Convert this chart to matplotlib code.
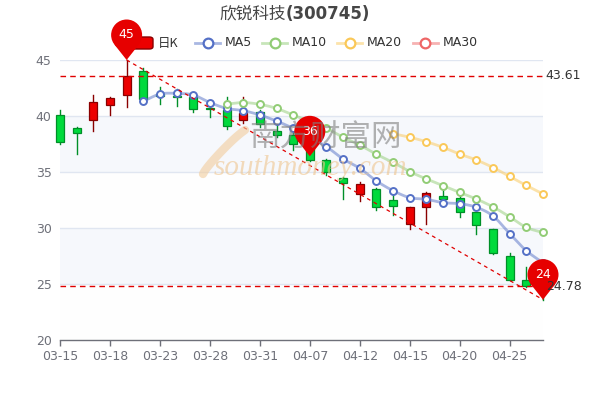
import numpy as np
import matplotlib
matplotlib.use("Agg")
import matplotlib.pyplot as plt
from matplotlib.patches import Rectangle, Circle, Polygon, FancyBboxPatch
from matplotlib.lines import Line2D
from matplotlib import transforms

plt.rcParams['font.family'] = ['DejaVu Sans', 'Noto Sans CJK SC']

# ---------------- data ----------------
dates = ['03-15', '03-16', '03-17', '03-18', '03-21', '03-22', '03-23', '03-24', '03-25', '03-28',
         '03-29', '03-30', '03-31', '04-01', '04-06', '04-07', '04-08', '04-11', '04-12', '04-13',
         '04-14', '04-15', '04-18', '04-19', '04-20', '04-21', '04-22', '04-25', '04-26', '04-27']
opens = [40.1, 38.9, 39.6, 41.0, 41.9, 44.0, 41.95, 41.8, 41.7, 40.7,
         40.5, 39.6, 40.4, 38.7, 38.3, 37.1, 36.1, 34.5, 33.0, 33.5,
         32.5, 30.4, 31.9, 32.9, 32.7, 31.4, 29.9, 27.5, 25.4, 25.3]
closes = [37.7, 38.5, 41.25, 41.6, 43.61, 41.55, 41.8, 41.7, 40.6, 40.6,
          39.1, 40.3, 39.3, 38.3, 37.5, 36.1, 35.0, 34.0, 33.9, 31.85,
          31.95, 31.85, 33.15, 32.55, 31.4, 30.25, 27.75, 25.4, 24.78, 24.95]
highs = [40.5, 39.05, 41.9, 41.7, 45.0, 44.3, 42.6, 42.4, 41.9, 41.1,
         41.7, 41.7, 40.5, 39.4, 39.1, 37.3, 36.2, 34.55, 34.1, 33.6,
         33.0, 31.9, 33.2, 33.55, 33.35, 31.45, 29.9, 27.8, 26.5, 25.6]
lows = [37.5, 36.6, 38.7, 40.1, 40.8, 41.4, 41.1, 40.9, 40.4, 39.9,
        38.8, 39.4, 39.0, 38.15, 37.0, 36.0, 34.7, 32.6, 32.4, 31.6,
        31.2, 29.9, 30.4, 32.5, 31.0, 29.5, 27.7, 25.35, 24.7, 23.6]

nan = np.nan
ma5 = [nan] * 5 + [41.3, 41.96, 42.02, 41.88, 41.2, 40.68, 40.48, 40.09, 39.55, 38.9,
                   38.1, 37.26, 36.16, 35.33, 34.2, 33.33, 32.71, 32.56, 32.26, 32.17,
                   31.85, 31.07, 29.5, 27.97, 26.9]
ma10 = [nan] * 10 + [41.05, 41.2, 41.04, 40.68, 40.09, 39.5, 38.9, 38.1, 37.41, 36.58,
                     35.86, 35.03, 34.38, 33.78, 33.17, 32.59, 31.88, 31.0, 30.05, 29.6]
ma20 = [nan] * 20 + [38.42, 38.1, 37.7, 37.2, 36.6, 36.07, 35.4, 34.6, 33.8, 33.04]
ma30 = [nan] * 30

mark_avg_value = 36.4
mark_avg_index = 15
title_name = '欣锐科技'
title_code = '(300745)'
legend_names = ['日K', 'MA5', 'MA10', 'MA20', 'MA30']
ma_colors = ['#5470c6', '#91cc75', '#fac858', '#ee6666']

up_color, up_border = '#ec0000', '#8a0000'
down_color, down_border = '#00da3c', '#008f28'
pin_color = '#e60000'

# ---------------- figure ----------------
W, H = 600, 400
fig = plt.figure(figsize=(6, 4), dpi=100)
fig.patch.set_facecolor('white')

def fx(px):
    return px / W

def fy(py):
    return 1 - py / H

ax = fig.add_axes([fx(60), fy(340), fx(543) - fx(60), fy(60) - fy(340)])
n = len(dates)
ax.set_xlim(0, n - 1)
ax.set_ylim(20, 45)

# split areas
band_cols = ['#fefefe', '#f6f8fc']
for k, y0 in enumerate(range(20, 45, 5)):
    ax.axhspan(y0, y0 + 5, color=band_cols[k % 2], zorder=0, lw=0)
for yv in range(25, 46, 5):
    ax.axhline(yv, color='#e0e6f1', lw=1, zorder=0.5)

for s in ['top', 'right', 'left']:
    ax.spines[s].set_visible(False)
ax.spines['bottom'].set_color('#6e7079')
ax.spines['bottom'].set_linewidth(1.0)

ax.set_yticks(range(20, 46, 5))
ax.tick_params(axis='y', length=0, pad=6, labelsize=9, labelcolor='#6e7079')
xt = list(range(0, n - 1, 3))
ax.set_xticks(xt)
ax.set_xticklabels([dates[i] for i in xt])
ax.tick_params(axis='x', length=4, width=1, color='#6e7079', pad=3, labelsize=9, labelcolor='#6e7079')

# watermark
fig.text(fx(325), fy(138), '南方财富网', family=['Noto Sans CJK SC'], fontsize=22,
         color='#808080', alpha=0.6, ha='center', va='center', zorder=3)
fig.text(fx(214), fy(168), 'southmoney.com', family=['Liberation Serif'], style='italic',
         fontsize=21, color='#efc58e', alpha=0.6, ha='left', va='center', zorder=3)
tt = np.linspace(0, 1, 40)
sx = 203 + 42 * tt + 6 * np.sin(np.pi * tt)
sy = 174 - 44 * tt ** 0.8 - 6 * np.sin(np.pi * tt)
fig.lines.append(Line2D(fx(sx), fy(sy), transform=fig.transFigure, color='#f1cc9c',
                        alpha=0.6, lw=6, solid_capstyle='round', zorder=3))

# candles
bw = 0.48
for i in range(n):
    o, c, h, l = opens[i], closes[i], highs[i], lows[i]
    up = c >= o
    fc = up_color if up else down_color
    ec = up_border if up else down_border
    ax.plot([i, i], [l, h], color=ec, lw=1.0, zorder=4, clip_on=False)
    bot = min(o, c)
    ht = max(abs(c - o), 0.06)
    ax.add_patch(Rectangle((i - bw / 2, bot), bw, ht, facecolor=fc, edgecolor=ec,
                           lw=0.9, zorder=5, clip_on=False))

# MA lines (smooth drawing)
def smooth(xs, ys, steps=12):
    xs = np.asarray(xs, float)
    ys = np.asarray(ys, float)
    if len(xs) < 3:
        return xs, ys
    px, py = [], []
    for k in range(len(xs) - 1):
        p0 = max(k - 1, 0)
        p3 = min(k + 2, len(xs) - 1)
        x1, y1, x2, y2 = xs[k], ys[k], xs[k + 1], ys[k + 1]
        c1x = x1 + (xs[k + 1] - xs[p0]) / 6
        c1y = y1 + (ys[k + 1] - ys[p0]) / 6
        c2x = x2 - (xs[p3] - xs[k]) / 6
        c2y = y2 - (ys[p3] - ys[k]) / 6
        t = np.linspace(0, 1, steps, endpoint=False)
        px.extend((1 - t) ** 3 * x1 + 3 * (1 - t) ** 2 * t * c1x + 3 * (1 - t) * t ** 2 * c2x + t ** 3 * x2)
        py.extend((1 - t) ** 3 * y1 + 3 * (1 - t) ** 2 * t * c1y + 3 * (1 - t) * t ** 2 * c2y + t ** 3 * y2)
    px.append(xs[-1])
    py.append(ys[-1])
    return np.array(px), np.array(py)

for vals, col in zip([ma5, ma10, ma20, ma30], ma_colors):
    v = np.asarray(vals, float)
    idx = np.where(~np.isnan(v))[0]
    if len(idx) == 0:
        continue
    sxv, syv = smooth(idx, v[idx])
    ax.plot(sxv, syv, color=col, lw=2.0, alpha=0.5, zorder=6, clip_on=False,
            solid_capstyle='round')
    ax.plot(idx, v[idx], ls='none', marker='o', ms=5.0, mfc='white', mec=col,
            mew=1.4, zorder=7, clip_on=False)

# mark lines
max_close = max(closes)
min_close = min(closes)
for val in [max_close, min_close]:
    ax.axhline(val, color='#e00000', lw=1.0, ls=(0, (4, 3)), zorder=8)
    ax.annotate(f'{val:.2f}', xy=(1, val), xycoords=('axes fraction', 'data'),
                xytext=(2, 0), textcoords='offset points', ha='left', va='center',
                fontsize=9, color='#333333', zorder=12, annotation_clip=False)
imax = int(np.argmax(highs))
imin = int(np.argmin(lows))
ax.plot([imax, imin], [highs[imax], lows[imin]], color='#e00000', lw=0.9,
        ls=(0, (3, 3)), zorder=8, clip_on=False)

# pins
def pin(xd, yd, label):
    tr = fig.dpi_scale_trans + transforms.ScaledTranslation(xd, yd, ax.transData)
    r, d = 0.155, 0.25
    ax.add_patch(Circle((0, d), r, transform=tr, facecolor=pin_color, edgecolor='none',
                        zorder=10, clip_on=False))
    tl = np.sqrt(d * d - r * r)
    sa = r / d
    ca = tl / d
    ax.add_patch(Polygon([(0, 0), (tl * sa, tl * ca), (-tl * sa, tl * ca)], closed=True,
                         transform=tr, facecolor=pin_color, edgecolor='none',
                         zorder=10, clip_on=False))
    ax.text(0, d, label, transform=tr, ha='center', va='center', color='white',
            fontsize=9, zorder=11)

pin(imax, highs[imax], f'{highs[imax]:.0f}')
pin(imin, lows[imin], f'{lows[imin]:.0f}')
pin(mark_avg_index, mark_avg_value, f'{mark_avg_value:.0f}')

# title
fig.text(fx(286), fy(14), title_name, family=['Noto Sans CJK SC'], fontsize=12,
         color='#464646', ha='right', va='center')
fig.text(fx(286), fy(14), title_code, family=['DejaVu Sans'], fontsize=12, weight='bold',
         color='#464646', ha='left', va='center')

# legend
ly = 43
fig.patches.append(FancyBboxPatch((fx(129), fy(ly + 6)), fx(153) - fx(129), fy(ly - 6) - fy(ly + 6),
                                  boxstyle='round,pad=0,rounding_size=0.006',
                                  transform=fig.transFigure, facecolor=up_color,
                                  edgecolor=up_border, lw=1.0, zorder=-1))
fig.text(fx(158), fy(ly), legend_names[0], family=['Noto Sans CJK SC'], fontsize=9,
         color='#333333', ha='left', va='center')
icon_x = [195, 262, 337, 413]
for name, col, x0 in zip(legend_names[1:], ma_colors, icon_x):
    fig.lines.append(Line2D([fx(x0), fx(x0 + 25)], [fy(ly), fy(ly)], transform=fig.transFigure,
                            color=col, lw=2, alpha=0.5))
    fig.lines.append(Line2D([fx(x0 + 12.5)], [fy(ly)], transform=fig.transFigure, ls='none',
                            marker='o', ms=7.0, mfc='white', mec=col, mew=1.6))
    fig.text(fx(x0 + 30), fy(ly), name, fontsize=9, color='#333333', ha='left', va='center')

fig.savefig('out.png', dpi=100)
